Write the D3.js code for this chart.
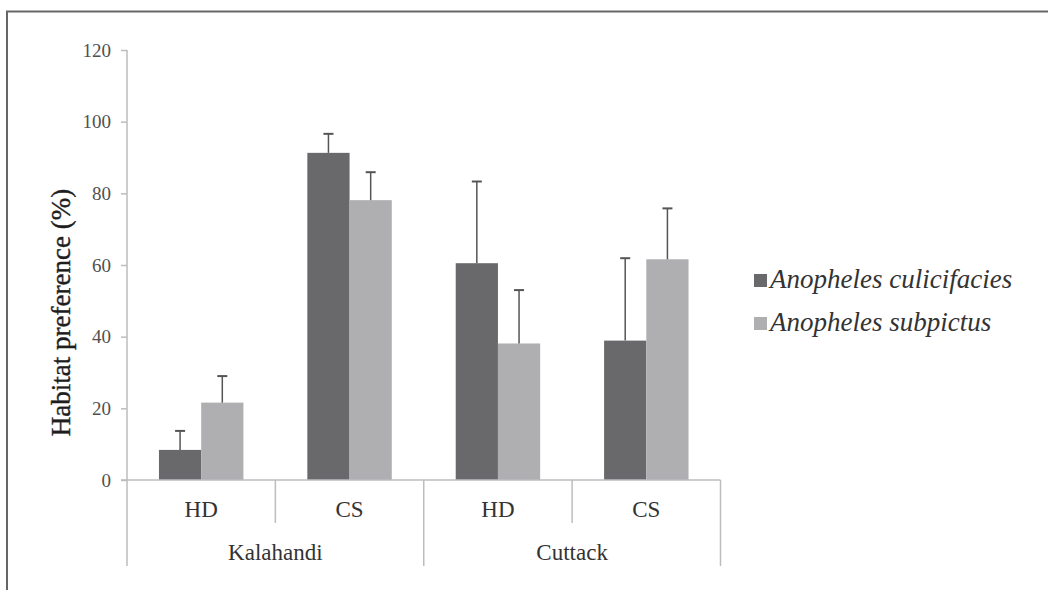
<!DOCTYPE html>
<html>
<head>
<meta charset="utf-8">
<script src="https://cdn.jsdelivr.net/npm/d3@7"></script>
<style>
  html, body { margin: 0; padding: 0; background: #fff; }
  svg { display: block; }
</style>
</head>
<body>
<svg id="chart" width="1048" height="590"></svg>
<script>
// Habitat preference of two Anopheles species by district and habitat type
const districts = ["Kalahandi", "Cuttack"];
const habitats = ["HD", "CS"];
const categories = ["Kalahandi HD", "Kalahandi CS", "Cuttack HD", "Cuttack CS"];
const series = ["Anopheles culicifacies", "Anopheles subpictus"];
const culicifaciesMean = [8.4, 91.3, 60.5, 38.9];
const culicifaciesSD = [5.3, 5.3, 22.8, 23.0];
const subpictusMean = [21.6, 78.1, 38.1, 61.6];
const subpictusSD = [7.4, 7.8, 14.9, 14.2];
const yTicks = [0, 20, 40, 60, 80, 100, 120];
const colors = ["#69696b", "#afafb2"];

const svg = d3.select("#chart");
const serif = "'Liberation Serif', 'Times New Roman', serif";

// outer frame (top and left rules)
svg.append("line").attr("x1", 6).attr("x2", 1048).attr("y1", 11.5).attr("y2", 11.5)
  .attr("stroke", "#666").attr("stroke-width", 2);
svg.append("line").attr("x1", 7).attr("x2", 7).attr("y1", 11).attr("y2", 590)
  .attr("stroke", "#666").attr("stroke-width", 2);

const plot = { left: 127, right: 720.5, top: 50, bottom: 480 };

const x0 = d3.scaleBand().domain(categories).range([plot.left, plot.right]).padding(0);
const x1 = d3.scaleBand().domain(series).range([0, x0.bandwidth()])
  .paddingInner(0).paddingOuter(0.757);
const y = d3.scaleLinear().domain([0, 120]).range([plot.bottom, plot.top]);

const data = categories.map((c, i) => ({
  cat: c,
  vals: [
    { s: series[0], v: culicifaciesMean[i], e: culicifaciesSD[i], k: 0 },
    { s: series[1], v: subpictusMean[i], e: subpictusSD[i], k: 1 }
  ]
}));

const axisColor = "#bdbdc0";

// y axis
const yAxis = svg.append("g").attr("transform", `translate(${plot.left},0)`)
  .call(d3.axisLeft(y).tickValues(yTicks).tickSize(6).tickPadding(10));
yAxis.select(".domain").remove();
yAxis.selectAll(".tick line").attr("stroke", axisColor).attr("stroke-width", 1.5);
yAxis.selectAll(".tick text").attr("font-family", serif).attr("font-size", 19)
  .attr("fill", "#505050");
svg.append("line").attr("x1", plot.left).attr("x2", plot.left)
  .attr("y1", plot.top).attr("y2", 566)
  .attr("stroke", axisColor).attr("stroke-width", 1.5);

// y axis title
svg.append("text")
  .attr("transform", "translate(69.5, 312.5) rotate(-90)")
  .attr("text-anchor", "middle")
  .attr("font-family", serif).attr("font-size", 27).attr("fill", "#1e1e1e")
  .attr("stroke", "#1e1e1e").attr("stroke-width", 0.4)
  .text("Habitat preference (%)");

// bars
const groups = svg.append("g").selectAll("g").data(data).join("g")
  .attr("transform", d => `translate(${x0(d.cat)},0)`);
groups.selectAll("rect").data(d => d.vals).join("rect")
  .attr("x", d => x1(d.s))
  .attr("y", d => y(d.v))
  .attr("width", x1.bandwidth())
  .attr("height", d => y(0) - y(d.v))
  .attr("fill", d => colors[d.k]);

// error bars (upper only)
const err = groups.selectAll("g.err").data(d => d.vals).join("g").attr("class", "err");
err.append("line")
  .attr("x1", d => x1(d.s) + x1.bandwidth() / 2)
  .attr("x2", d => x1(d.s) + x1.bandwidth() / 2)
  .attr("y1", d => y(d.v)).attr("y2", d => y(d.v + d.e))
  .attr("stroke", "#555").attr("stroke-width", 1.5);
err.append("line")
  .attr("x1", d => x1(d.s) + x1.bandwidth() / 2 - 5)
  .attr("x2", d => x1(d.s) + x1.bandwidth() / 2 + 5)
  .attr("y1", d => y(d.v + d.e)).attr("y2", d => y(d.v + d.e))
  .attr("stroke", "#555").attr("stroke-width", 2);

// x axis baseline
svg.append("line").attr("x1", plot.left - 6).attr("x2", plot.right)
  .attr("y1", y(0)).attr("y2", y(0))
  .attr("stroke", axisColor).attr("stroke-width", 1.5);

// category separators: short between habitats, long between districts
categories.forEach((c, i) => {
  if (i === 0) return;
  const long = i % habitats.length === 0;
  svg.append("line").attr("x1", x0(c)).attr("x2", x0(c))
    .attr("y1", y(0)).attr("y2", long ? 566 : 523)
    .attr("stroke", axisColor).attr("stroke-width", 1.5);
});
svg.append("line").attr("x1", plot.right).attr("x2", plot.right)
  .attr("y1", y(0)).attr("y2", 566)
  .attr("stroke", axisColor).attr("stroke-width", 1.5);

// habitat labels
categories.forEach((c, i) => {
  svg.append("text")
    .attr("x", x0(c) + x0.bandwidth() / 2).attr("y", 517)
    .attr("text-anchor", "middle")
    .attr("font-family", serif).attr("font-size", 23).attr("fill", "#333")
    .text(habitats[i % habitats.length]);
});

// district labels
districts.forEach((d, j) => {
  const first = x0(categories[j * habitats.length]);
  const last = x0(categories[j * habitats.length + habitats.length - 1]) + x0.bandwidth();
  svg.append("text")
    .attr("x", (first + last) / 2).attr("y", 560)
    .attr("text-anchor", "middle")
    .attr("font-family", serif).attr("font-size", 23).attr("fill", "#333")
    .text(d);
});

// legend
const legend = svg.append("g").attr("transform", "translate(754, 288)");
series.forEach((s, i) => {
  const row = legend.append("g").attr("transform", `translate(0, ${i * 43})`);
  row.append("rect").attr("x", 0).attr("y", -14).attr("width", 13).attr("height", 13)
    .attr("fill", colors[i]);
  row.append("text").attr("x", 16).attr("y", 0)
    .attr("font-family", serif).attr("font-style", "italic")
    .attr("font-size", 27).attr("fill", "#333")
    .text(s);
});
</script>
</body>
</html>
